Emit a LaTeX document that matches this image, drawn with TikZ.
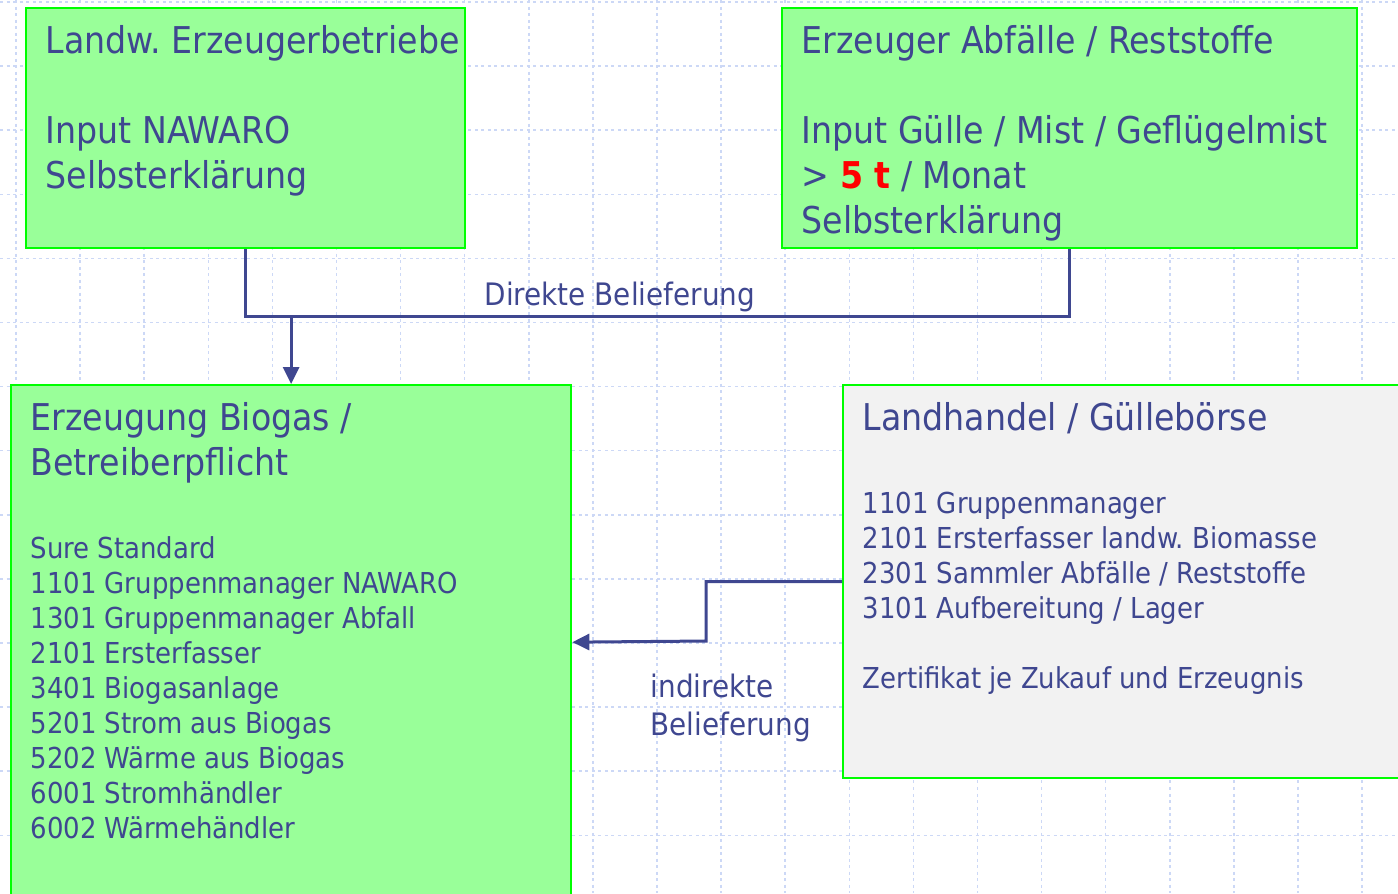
\documentclass[tikz,border=0pt]{standalone}
\usepackage{fontspec}
\setmainfont{DejaVu Sans Condensed}
\usepackage{xcolor}
\usetikzlibrary{
    arrows.meta,
    positioning,
    calc
}
\frenchspacing
\definecolor{bgblau}{HTML}{3F4790}
\definecolor{bggruen}{HTML}{99FF99}
\definecolor{bgrand}{HTML}{00FF00}
\definecolor{bggrau}{HTML}{F2F2F2}
\definecolor{bgraster}{HTML}{CCD8F6}
\tikzset{
    % Hintergrundraster
    raster/.style={
        draw=bgraster,
        line width=0.015cm,
        dash pattern=on 0.03cm off 0.035cm
    },
    % Gruene Box
    gruenbox/.style={
        rectangle,
        draw=bgrand,
        fill=#1,
        line width=0.02cm,
        anchor=north west,
        inner sep=0pt
    },
    gruenbox/.default=bggruen,
    % Grosse Schrift
    titeltext/.style={
        anchor=north west,
        inner sep=0pt,
        align=left,
        text=bgblau,
        font=\fontsize{10.5}{12.8}\selectfont
    },
    % Kleine Schrift
    listentext/.style={
        anchor=north west,
        inner sep=0pt,
        align=left,
        text=bgblau,
        font=\fontsize{8.2}{9.96}\selectfont
    },
    % Beschriftung der Pfeile
    pfeiltext/.style={
        inner sep=0pt,
        align=left,
        text=bgblau,
        font=\fontsize{8.8}{10.8}\selectfont
    },
    % Verbindungen
    linie/.style={
        draw=bgblau,
        line width=0.03cm
    },
    pfeil/.style={
        linie,
        -{Triangle[length=0.17cm,width=0.16cm]}
    }
}
\begin{document}
\begin{tikzpicture}[x=0.01cm, y=-0.01cm]

    \useasboundingbox (0,0) rectangle (1398,893);

    % Raster
    \foreach \gx in {0,...,21}
        \draw[raster] (16+64.1*\gx,0) -- (16+64.1*\gx,893);
    \foreach \gy in {0,...,13}
        \draw[raster] (0,2+64.1*\gy) -- (1398,2+64.1*\gy);

    % Landwirtschaftliche Erzeuger
    \node[gruenbox, minimum width=4.39cm, minimum height=2.40cm] (betriebe) at (25,7) {};
    \node[titeltext] (betriebetext) at ([shift={(20,18)}]betriebe.north west)
        {Landw. Erzeugerbetriebe\\[12.8pt]Input NAWARO\\Selbsterklärung};

    % Erzeuger Abfaelle
    \node[gruenbox, minimum width=5.75cm, minimum height=2.40cm] (abfall) at (781,7) {};
    \node[titeltext] (abfalltext) at ([shift={(20,18)}]abfall.north west)
        {Erzeuger Abfälle / Reststoffe\\[12.8pt]Input Gülle / Mist / Geflügelmist\\> {\bfseries\color{red}5 t} / Monat\\Selbsterklärung};

    % Biogasanlage
    \node[gruenbox, minimum width=5.60cm, minimum height=5.14cm] (biogas) at (10,384) {};
    \node[titeltext] (biogastitel) at ([shift={(20,18)}]biogas.north west)
        {Erzeugung Biogas /\\Betreiberpflicht};
    \node[listentext] (biogasliste) at ([shift={(20,152)}]biogas.north west)
        {Sure Standard\\1101 Gruppenmanager NAWARO\\1301 Gruppenmanager Abfall\\2101 Ersterfasser\\3401 Biogasanlage\\5201 Strom aus Biogas\\5202 Wärme aus Biogas\\6001 Stromhändler\\6002 Wärmehändler};

    % Landhandel
    \node[gruenbox=bggrau, minimum width=5.80cm, minimum height=3.93cm] (handel) at (842,384) {};
    \node[titeltext] (handeltitel) at ([shift={(20,18)}]handel.north west)
        {Landhandel / Güllebörse};
    \node[listentext] (handelliste) at ([shift={(20,107)}]handel.north west)
        {1101 Gruppenmanager\\2101 Ersterfasser landw. Biomasse\\2301 Sammler Abfälle / Reststoffe\\3101 Aufbereitung / Lager\\[9.96pt]Zertifikat je Zukauf und Erzeugnis};

    % Direkte Belieferung
    \coordinate (zusammen) at (biogas.north |- 0,316);
    \draw[linie] (betriebe.south) |- (zusammen) -| (abfall.south);
    \draw[pfeil] (zusammen) -- (biogas.north);
    \node[pfeiltext, anchor=base west] (direkt) at (484,305) {Direkte Belieferung};

    % Indirekte Belieferung
    \coordinate (knick) at (706,641);
    \draw[pfeil] (handel.west) -| (knick) -- (biogas.east);
    \node[pfeiltext, anchor=north west] (indirekt) at (650,673) {indirekte\\Belieferung};

\end{tikzpicture}
\end{document}
